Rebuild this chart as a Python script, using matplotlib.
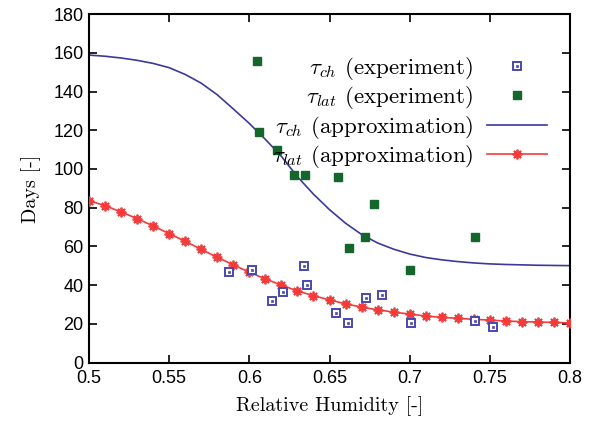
import matplotlib
matplotlib.use("Agg")
import matplotlib.pyplot as plt
from matplotlib.legend_handler import HandlerTuple

BLUE = "#3a3a9c"
BLUE_PT = "#4848b0"
GREEN = "#15662a"
RED = "#f53a3a"

# tau_ch experiment
ch_x = [0.5875, 0.6015, 0.614, 0.6208, 0.6343, 0.6362, 0.6543, 0.6618, 0.673, 0.683, 0.701, 0.741, 0.7518]
ch_y = [47.0, 47.7, 32.0, 36.3, 49.9, 40.1, 25.5, 20.7, 33.2, 35.1, 20.5, 21.5, 18.3]

# tau_lat experiment
lat_x = [0.605, 0.606, 0.617, 0.628, 0.635, 0.655, 0.662, 0.672, 0.678, 0.700, 0.741]
lat_y = [156, 119, 110, 97, 97, 96, 59, 65, 82, 48, 65]

# approximations, sampled every 0.01
rh = [0.50, 0.51, 0.52, 0.53, 0.54, 0.55, 0.56, 0.57, 0.58, 0.59, 0.60,
      0.61, 0.62, 0.63, 0.64, 0.65, 0.66, 0.67, 0.68, 0.69, 0.70,
      0.71, 0.72, 0.73, 0.74, 0.75, 0.76, 0.77, 0.78, 0.79, 0.80]
ch_fit = [158.8, 158.2, 157.3, 156.1, 154.5, 152.3, 148.8, 144.3, 138.3, 131.0, 123.5,
          115.3, 106.5, 96.0, 87.0, 79.0, 72.0, 66.2, 61.8, 58.6, 56.1,
          54.3, 53.1, 52.2, 51.5, 51.0, 50.7, 50.5, 50.3, 50.2, 50.1]
lat_fit = [83.6, 81.1, 77.8, 74.4, 70.6, 66.6, 62.7, 58.5, 54.4, 50.5, 46.7,
           43.2, 40.1, 37.0, 34.6, 32.4, 30.4, 28.7, 27.3, 26.1, 25.1,
           24.1, 23.4, 22.9, 22.4, 22.0, 21.5, 21.2, 21.0, 20.8, 20.5]

plt.rcParams["mathtext.fontset"] = "cm"
plt.rcParams["font.family"] = ["Liberation Sans", "DejaVu Sans"]
SERIF = ["cmr10", "DejaVu Serif"]

fig = plt.figure(figsize=(5.95, 4.26), dpi=100)
ax = fig.add_axes([0.1496, 0.1486, 0.8084, 0.8185])

ln_ch, = ax.plot(rh, ch_fit, color=BLUE, lw=1.2, zorder=2)
ln_lat, = ax.plot(rh, lat_fit, color=RED, lw=1.2, marker=(8, 2, 0), ms=7, mew=1.3, zorder=3)
sq_open, = ax.plot(ch_x, ch_y, ls="none", marker="s", ms=5.5, mfc="white", mec=BLUE_PT, mew=1.4, zorder=4)
sq_dot, = ax.plot(ch_x, ch_y, ls="none", marker="s", ms=1.6, mfc=BLUE_PT, mec=BLUE_PT, mew=0.5, zorder=5)
sq_fill, = ax.plot(lat_x, lat_y, ls="none", marker="s", ms=6, mfc=GREEN, mec=GREEN, zorder=4)

ax.set_xlim(0.5, 0.8)
ax.set_ylim(0, 180)
ax.set_xticks([0.5, 0.55, 0.6, 0.65, 0.7, 0.75, 0.8])
ax.set_xticklabels(["0.5", "0.55", "0.6", "0.65", "0.7", "0.75", "0.8"])
ax.set_yticks(range(0, 181, 20))
ax.tick_params(direction="in", top=True, right=True, length=6, width=1.2, labelsize=13)
ax.tick_params(axis="x", pad=5)
ax.tick_params(axis="y", pad=4)
for s in ax.spines.values():
    s.set_linewidth(1.5)

ax.set_xlabel("Relative Humidity [-]", fontfamily=SERIF, fontsize=14.5, labelpad=7)
ax.set_ylabel("Days [-]", fontfamily=SERIF, fontsize=14.5, labelpad=9)

labels = [r"$\tau_{ch}$ (experiment)", r"$\tau_{lat}$ (experiment)",
          r"$\tau_{ch}$ (approximation)", r"$\tau_{lat}$ (approximation)"]
leg = ax.legend([(sq_open, sq_dot), sq_fill, ln_ch, ln_lat], labels,
                handler_map={tuple: HandlerTuple(ndivide=1)},
                loc="upper right", bbox_to_anchor=(0.985, 0.928), markerfirst=False,
                frameon=False, handlelength=2.6, handletextpad=0.6, labelspacing=0.1,
                borderaxespad=0.3, numpoints=1, prop={"family": SERIF, "size": 16.5})

fig.savefig("out.png", dpi=100)
